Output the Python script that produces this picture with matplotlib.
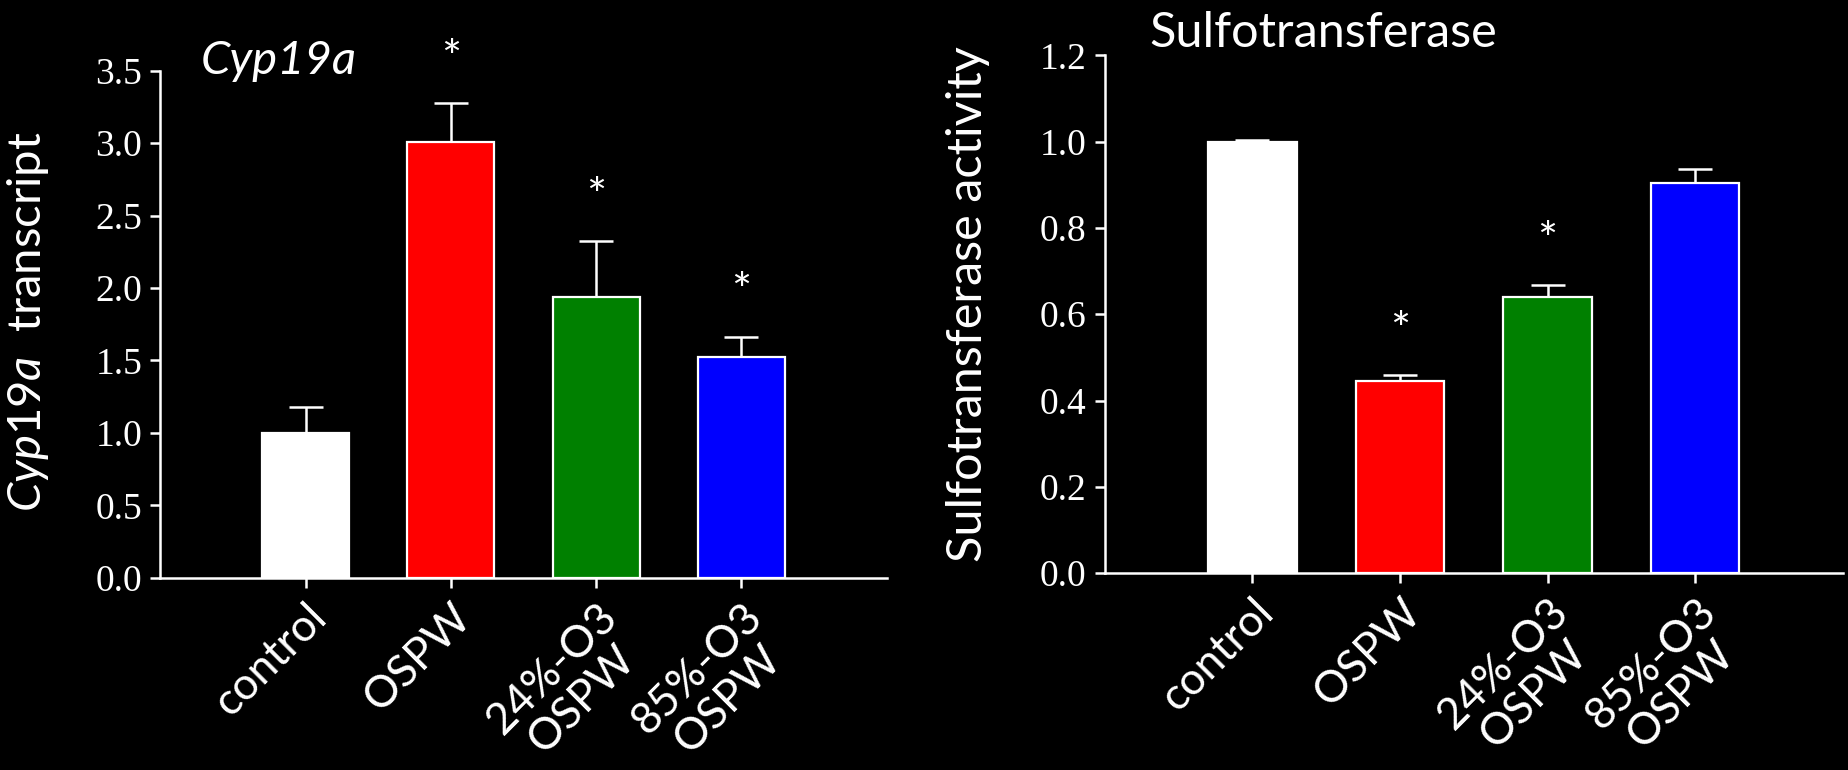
import numpy as np
import matplotlib
matplotlib.use("Agg")
import matplotlib.pyplot as plt

# datos
grupos = ["control", "OSPW", "24%-O3\nOSPW", "85%-O3\nOSPW"]
colores = ["#FFFFFF", "#FF0000", "#008000", "#0000FF"]

cyp19a = [1.0, 3.01, 1.935, 1.525]
cyp19a_err = [0.18, 0.27, 0.39, 0.14]
cyp19a_sig = [False, True, True, True]

sulfo = [1.0, 0.445, 0.64, 0.905]
sulfo_err = [0.005, 0.015, 0.028, 0.032]
sulfo_sig = [False, True, True, False]

plt.rcParams["mathtext.fontset"] = "custom"
plt.rcParams["mathtext.it"] = "Lato:italic"
plt.rcParams["mathtext.rm"] = "Lato"

sans = "Lato"
serif = "Liberation Serif"

fig = plt.figure(figsize=(18.49, 7.70), dpi=100, facecolor="black")
ax1 = fig.add_axes([0.0867, 0.2497, 0.3928, 0.6585])
ax2 = fig.add_axes([0.5975, 0.2558, 0.3991, 0.6722])


def panel(ax, valores, errores, sig, ymax, paso):
    x = np.arange(len(grupos))
    ax.set_facecolor("black")
    ax.bar(x, valores, width=0.6, color=colores, edgecolor="white", linewidth=1.6, zorder=3)
    ax.errorbar(x, valores, yerr=[np.zeros(len(x)), errores], fmt="none",
                ecolor="white", elinewidth=1.8, capsize=12, capthick=1.8, zorder=2)
    for xi, v, e, s in zip(x, valores, errores, sig):
        if s:
            ax.annotate("*", (xi, v + e), xytext=(0, 31), textcoords="offset points",
                        color="white", fontsize=34, family=sans,
                        ha="center", va="center", annotation_clip=False)
    ticks = np.arange(0, ymax + paso / 2, paso)
    ax.set_xlim(-1, 4)
    ax.set_ylim(0, ymax)
    ax.set_yticks(ticks)
    ax.set_yticklabels([f"{t:.1f}" for t in ticks], family=serif, fontsize=27, color="white")
    ax.set_xticks(x)
    ax.set_xticklabels(grupos, rotation=45, ha="right", rotation_mode="anchor",
                       multialignment="center", linespacing=1.05,
                       family=sans, fontsize=32, color="white")
    for lado in ["top", "right"]:
        ax.spines[lado].set_visible(False)
    for lado in ["left", "bottom"]:
        ax.spines[lado].set_color("white")
        ax.spines[lado].set_linewidth(1.8)
    ax.tick_params(axis="both", colors="white", width=1.8, length=7, direction="out")
    ax.tick_params(axis="x", pad=6)
    ax.tick_params(axis="y", pad=6)


panel(ax1, cyp19a, cyp19a_err, cyp19a_sig, 3.5, 0.5)
panel(ax2, sulfo, sulfo_err, sulfo_sig, 1.2, 0.2)

ax1.text(0.055, 1.02, "Cyp19a", style="italic", family=sans, fontsize=34,
         color="white", ha="left", va="center", transform=ax1.transAxes)
ax1.set_ylabel(r"$\mathit{Cyp19a}$  transcript", family=sans, fontsize=34, color="white")
ax1.yaxis.set_label_coords(-0.15, 0.505)

ax2.text(0.061, 1.043, "Sulfotransferase", family=sans, fontsize=35,
         color="white", ha="left", va="center", transform=ax2.transAxes)
ax2.set_ylabel("Sulfotransferase activity", family=sans, fontsize=35, color="white")
ax2.yaxis.set_label_coords(-0.156, 0.52)

fig.savefig("out.png", dpi=100, facecolor="black")
